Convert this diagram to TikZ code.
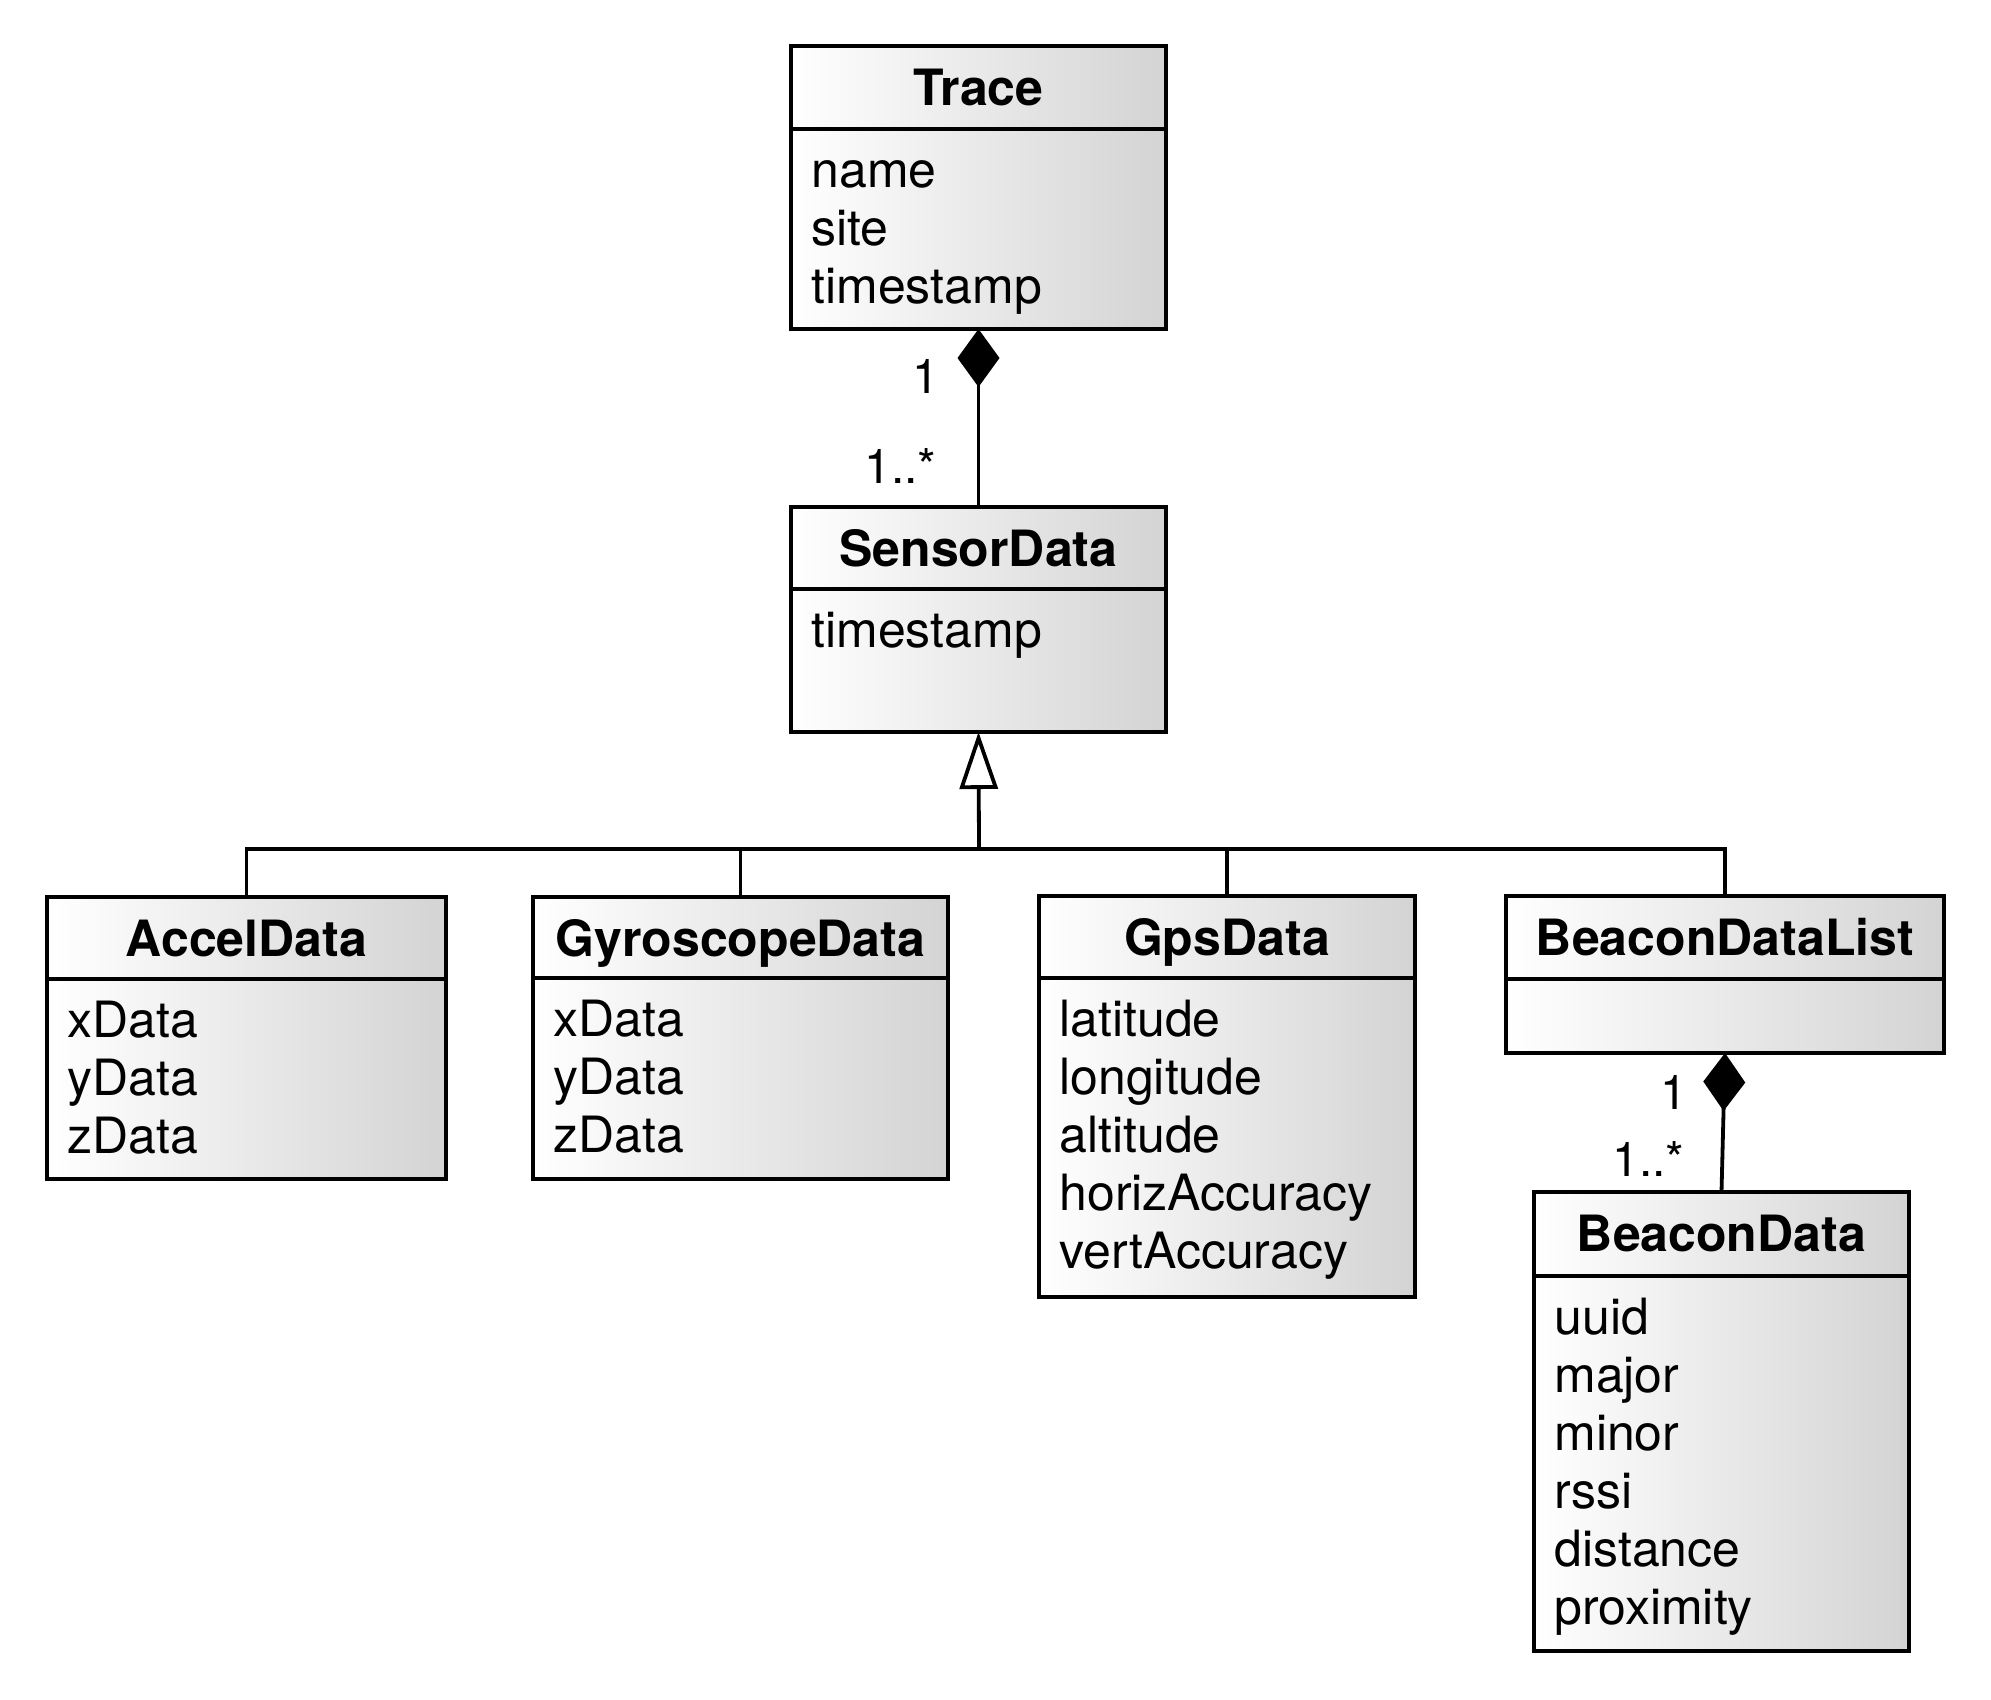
\documentclass[tikz,border=0pt]{standalone}
\usepackage{fontspec}
\setmainfont{TeX Gyre Heros}
\usetikzlibrary{arrows.meta}
\tikzset{
  cls/.style={rectangle, draw=black, line width=1.9pt, left color=white, right color=black!17, inner sep=0pt, outer sep=0pt},
  divider/.style={line width=1.9pt},
  ttl/.style={font=\fontsize{25}{30}\selectfont\bfseries, inner sep=0pt, anchor=base},
  attr/.style={font=\fontsize{25}{30}\selectfont, inner sep=0pt, anchor=base west},
  mult/.style={font=\fontsize{24}{28}\selectfont, inner sep=0pt, anchor=base east},
  conn/.style={line width=1.9pt},
  comp/.style={conn, {Diamond[length=29pt,width=21pt,line width=1pt]}-},
  gen/.style={conn, -{Triangle[length=28.5pt,width=19pt,fill=white,line width=1.9pt]}},
}
\newcommand\umlbox[7]{%
  \node[cls, minimum width={(#4-#2)*0.5pt}, minimum height={(#5-#3)*0.5pt}] (#1) at ({(#2+#4)/2},{(#3+#5)/2}) {};
  \draw[divider] (#2,#6) -- (#4,#6);
  \node[ttl] (#1-title) at ({(#2+#4)/2},{#3+59}) {#7};
}
\newcommand\umlattrs[4]{%
  \foreach \a [count=\i] in {#4} {\node[attr] (#1-a\i) at ({#2+20},{#3+58*\i}) {\a};}
}
\begin{document}
\begin{tikzpicture}[x=0.5pt, y=-0.5pt]
  \path[use as bounding box, fill=white] (0,0) rectangle (1991,1699);

  \umlbox{trace}{791}{46}{1166}{329}{129}{Trace}
  \umlattrs{trace}{791}{129}{name,site,timestamp}

  \umlbox{sensor}{791}{507}{1166}{732}{589}{SensorData}
  \umlattrs{sensor}{791}{589}{timestamp}

  \umlbox{accel}{47}{897}{446}{1179}{979}{AccelData}
  \umlattrs{accel}{47}{979}{xData,yData,zData}

  \umlbox{gyro}{533}{897}{948}{1179}{978}{GyroscopeData}
  \umlattrs{gyro}{533}{978}{xData,yData,zData}

  \umlbox{gps}{1039}{896}{1415}{1297}{978}{GpsData}
  \umlattrs{gps}{1039}{978}{latitude,longitude,altitude,horizAccuracy,vertAccuracy}

  \umlbox{bdl}{1506}{896}{1944}{1053}{979}{BeaconDataList}

  \umlbox{bd}{1534}{1192}{1909}{1651}{1276}{BeaconData}
  \umlattrs{bd}{1534}{1276}{uuid,major,minor,rssi,distance,proximity}

  % composition Trace -> SensorData
  \draw[comp] (trace.south) -- (sensor.north);
  \node[mult] (m1) at (940,393) {1};
  \node[mult] (m2) at (937,483) {1..*};

  % generalization
  \coordinate (gbus) at (979,849);
  \draw[gen] (gbus) -- (sensor.south);
  \draw[conn] (accel.north) |- (gbus) -| (bdl.north);
  \draw[conn] (gyro.north) -- (gyro.north |- gbus);
  \draw[conn] (gps.north) -- (gps.north |- gbus);

  % composition BeaconDataList -> BeaconData
  \draw[comp] (bdl.south) -- (bd.north);
  \node[mult] (m3) at (1688,1109) {1};
  \node[mult] (m4) at (1685,1176) {1..*};
\end{tikzpicture}
\end{document}
